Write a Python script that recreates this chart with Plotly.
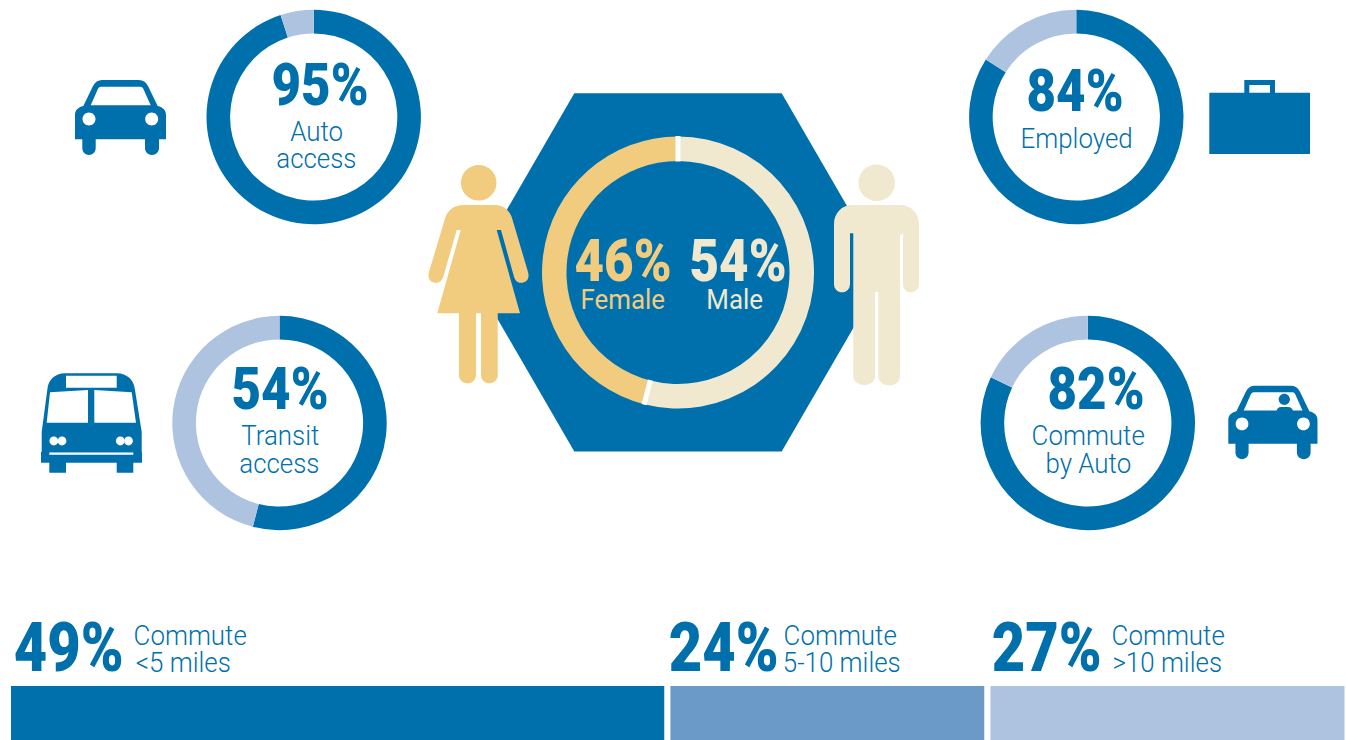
import math
import plotly.graph_objects as go

W, H = 1346, 740

# Survey shares, in percent
auto_access = [95, 5]
transit_access = [54, 46]
employed = [84, 16]
commute_by_auto = [82, 18]
gender_split = [54, 46]
commute_distance = [49, 24, 27]

ring_labels = ["Yes", "No"]
gender_labels = ["Male", "Female"]
distance_labels = ["Commute <5 miles", "Commute 5-10 miles", "Commute >10 miles"]

BLUE = "#0070AD"
MID = "#6B9AC9"
LIGHT = "#AEC3E0"
GOLD = "#F1CC7E"
CREAM = "#F0E9CF"

fig = go.Figure()


def ring(values, labels, colors, cx, cy, r, hole):
    fig.add_trace(go.Pie(
        values=values, labels=labels, sort=False, direction="clockwise", rotation=0,
        hole=hole, textinfo="none", showlegend=False, hoverinfo="label+value",
        marker=dict(colors=colors, line=dict(width=0)),
        domain=dict(x=[(cx - r) / W, (cx + r) / W], y=[1 - (cy + r) / H, 1 - (cy - r) / H]),
    ))


ring(auto_access, ring_labels, [BLUE, LIGHT], 313.7, 117, 107.2, 0.78)
ring(transit_access, ring_labels, [BLUE, LIGHT], 279.5, 423, 107.2, 0.78)
ring(employed, ring_labels, [BLUE, LIGHT], 1076.3, 117, 107.2, 0.78)
ring(commute_by_auto, ring_labels, [BLUE, LIGHT], 1087.8, 423, 107.2, 0.78)
ring(gender_split, gender_labels, [CREAM, GOLD], 678, 272.5, 136, 0.82)

# Distance bar along the bottom edge
for value, label, color in zip(commute_distance, distance_labels, [BLUE, MID, LIGHT]):
    fig.add_trace(go.Bar(
        x=[value], y=[0], name=label, orientation="h", width=1, showlegend=False,
        marker=dict(color=color, line=dict(width=0)), hoverinfo="name+x",
    ))

# Invisible pixel-scaled overlay for the pictograms and captions
fig.add_trace(go.Scatter(x=[], y=[], xaxis="x2", yaxis="y2", showlegend=False))

shapes = []


def draw(path, color=BLUE, layer="above"):
    shapes.append(dict(type="path", path=path, xref="x2", yref="y2", fillcolor=color,
                       line=dict(width=0), layer=layer, fillrule="evenodd"))


def circle(cx, cy, r):
    k = 0.5523 * r
    return (f"M{cx - r},{cy} C{cx - r},{cy - k} {cx - k},{cy - r} {cx},{cy - r} "
            f"C{cx + k},{cy - r} {cx + r},{cy - k} {cx + r},{cy} "
            f"C{cx + r},{cy + k} {cx + k},{cy + r} {cx},{cy + r} "
            f"C{cx - k},{cy + r} {cx - r},{cy + k} {cx - r},{cy} Z")


def car(x0, y0, s):
    def p(x, y):
        return f"{x0 + x * s:.2f},{y0 + y * s:.2f}"
    body = (f"M{p(0, 35)} C{p(0, 30)} {p(3, 27.5)} {p(8.3, 26)} L{p(18, 6)} Q{p(21, 0)} {p(27, 0)} "
            f"L{p(64, 0)} Q{p(70, 0)} {p(73, 6)} L{p(82.7, 26)} C{p(88, 27.5)} {p(91, 30)} {p(91, 35)} "
            f"L{p(91, 59.3)} L{p(84, 59.3)} L{p(84, 68)} C{p(84, 72)} {p(81, 75)} {p(77, 75)} "
            f"C{p(73, 75)} {p(70, 72)} {p(70, 68)} L{p(70, 59.3)} L{p(20.7, 59.3)} L{p(20.7, 68)} "
            f"C{p(20.7, 72)} {p(17.7, 75)} {p(14, 75)} C{p(10.3, 75)} {p(7.3, 72)} {p(7.3, 68)} "
            f"L{p(7.3, 59.3)} L{p(0, 59.3)} Z")
    window = (f"M{p(15.7, 25.2)} L{p(23, 8.7)} Q{p(24, 6.7)} {p(26, 6.7)} L{p(65.5, 6.7)} "
              f"Q{p(67.3, 6.7)} {p(68.3, 8.7)} L{p(75.7, 25.2)} Z")
    lamps = circle(x0 + 14 * s, y0 + 39 * s, 6.5 * s) + " " + circle(x0 + 76.7 * s, y0 + 39 * s, 6.5 * s)
    draw(f"{body} {window} {lamps}")


# Hexagon behind the gender ring
draw("M574.3,93.3 L781.7,93.3 L885.5,272.4 L781.7,451.5 L574.3,451.5 L470.5,272.4 Z", layer="below")

# White notches between the gender slices, placed from the split
ring_cx, ring_cy, ring_out, ring_in = 678, 272.5, 136, 136 * 0.82
for share in [0, gender_split[0]]:
    a = 2 * math.pi * share / sum(gender_split)
    shapes.append(dict(
        type="line", xref="x2", yref="y2", layer="above", line=dict(color="white", width=5),
        x0=ring_cx + (ring_in - 0.5) * math.sin(a), y0=ring_cy - (ring_in - 0.5) * math.cos(a),
        x1=ring_cx + (ring_out + 0.5) * math.sin(a), y1=ring_cy - (ring_out + 0.5) * math.cos(a),
    ))

# Gaps between the distance segments, anchored on the cumulative shares
running = 0
for value in commute_distance[:-1]:
    running += value
    shapes.append(dict(type="rect", xref="x", yref="y", xsizemode="pixel", xanchor=running,
                       x0=0, x1=6, y0=-0.5, y1=0.5, fillcolor="white", line=dict(width=0), layer="above"))

# Cars
car(75, 80, 1)
car(1228.3, 385.7, 0.98)
draw(circle(1284.3, 399.3, 5.6))
draw("M1276.5,411.5 Q1277,407 1281,407 L1288,407 Q1292.5,407 1293,411.5 Z")

# Bus
draw("M65,373.3 L116.7,373.3 C127,373.3 134,380 135,390 L141.7,431.7 L141.7,451.7 L142,451.7 L142,462.7 "
     "L133.3,462.7 L133.3,472.7 L116.7,472.7 L116.7,462.7 L66,462.7 L66,472.7 L49.3,472.7 L49.3,462.7 "
     "L41,462.7 L41,451.7 L41.7,451.7 L41.7,431.7 L47.3,390 C48,380 55,373.3 65,373.3 Z "
     "M66,375.7 L116.7,375.7 L116.7,387.7 L66,387.7 Z "
     "M50,392.3 L88,390 L88,422.7 L46.7,422.7 Z "
     "M94.3,390 L131.7,392.3 L136,422.7 L94.3,422.7 Z")
for lamp_x in [53.8, 62, 120.3, 128.5]:
    draw(circle(lamp_x, 441, 4.4), color="white")
draw("M49.3,452.5 L133.3,452.5 L133.3,454.7 L49.3,454.7 Z", color="white")

# Briefcase
draw("M1209.3,92.7 L1244.3,92.7 L1244.3,80 L1275,80 L1275,92.7 L1310,92.7 L1310,154 L1209.3,154 Z "
     "M1249.3,85 L1270,85 L1270,92.7 L1249.3,92.7 Z")

# Woman
draw(circle(478.7, 182.7, 17.8), GOLD)
draw("M463.5,205 L495,205 C503,205 509,210 511.7,217 L528,272 C530,279 526,282.7 521,282.7 "
     "C517,282.7 515,280 514,276.7 L501,230 L496.7,230 L520,313.3 L437.3,313.3 L460.7,230 L456.7,230 "
     "L443.3,276.7 C442.3,280 440,282.7 436,282.7 C431,282.7 427,279 429,272 L445.5,217 "
     "C448,210 454,205 463.5,205 Z", GOLD)
draw("M459,313 L476,313 L476,375 C476,380 472,383.3 467.5,383.3 C463,383.3 459,380 459,375 Z "
     "M481,313 L497.7,313 L497.7,375 C497.7,380 494,383.3 489.3,383.3 C485,383.3 481,380 481,375 Z", GOLD)

# Man
draw(circle(876.7, 182.7, 18.3), CREAM)
draw("M852,205 L900,205 C911,205 919,213 919,224 L919,284 C919,289 915.5,292.3 911,292.3 "
     "C906.5,292.3 903,289 903,284 L903,233 L900,236 L900,376 C900,381.5 895.5,385.5 889.5,385.5 "
     "C883,385.5 878.3,381.5 878.3,376 L878.3,291.7 L875,291.7 L875,376 C875,381.5 870.5,385 864.5,385 "
     "C858,385 853.3,381.5 853.3,376 L853.3,233.3 L850,233.3 L850,284 C850,289 846.5,292.3 842,292.3 "
     "C837.5,292.3 834,289 834,284 L834,224 C834,213 842,205 852,205 Z", CREAM)

annotations = []


def caption(text, x, y, size, color=BLUE, weight=300):
    annotations.append(dict(
        text=text, x=x, y=y, xref="x2", yref="y2", xanchor="center", yanchor="middle",
        showarrow=False, align="center",
        font=dict(family="Roboto", size=size, color=color, weight=weight),
    ))


def pct(values, index=0):
    return f"{values[index]}%"


caption(pct(auto_access), 319.5, 84.5, 60, weight=900)
caption("Auto", 316, 131.5, 28)
caption("access", 316, 158, 28)

caption(pct(transit_access), 279.5, 388.5, 60, weight=900)
caption("Transit", 279.5, 435, 28)
caption("access", 279.5, 463, 28)

caption(pct(employed), 1075, 90.5, 60, weight=900)
caption("Employed", 1076, 138, 28)

caption(pct(commute_by_auto), 1095.5, 388, 60, weight=900)
caption("Commute", 1088, 435, 28)
caption("by Auto", 1088, 463, 28)

caption(pct(gender_split, 1), 623, 260, 60, GOLD, weight=900)
caption("Female", 622.5, 299, 28, GOLD, weight=400)
caption(pct(gender_split, 0), 737.5, 260, 60, CREAM, weight=900)
caption("Male", 734, 299, 28, CREAM, weight=400)

caption(pct(commute_distance, 0), 68, 647.5, 68, weight=900)
caption("Commute", 190, 635, 28)
caption("<5 miles", 183, 662, 28)
caption(pct(commute_distance, 1), 723.5, 647.5, 68, weight=900)
caption("Commute", 840, 635, 28)
caption("5-10 miles", 842, 662, 28)
caption(pct(commute_distance, 2), 1046, 647.5, 68, weight=900)
caption("Commute", 1168, 635, 28)
caption(">10 miles", 1167, 662, 28)

fig.update_layout(
    width=W, height=H, margin=dict(l=0, r=0, t=0, b=0),
    paper_bgcolor="white", plot_bgcolor="rgba(0,0,0,0)",
    barmode="stack", bargap=0,
    xaxis=dict(domain=[11 / W, 1344.5 / W], range=[0, 100], visible=False, fixedrange=True),
    yaxis=dict(domain=[0, 54 / H], range=[-0.5, 0.5], visible=False, fixedrange=True),
    xaxis2=dict(domain=[0, 1], range=[0, W], visible=False, fixedrange=True, anchor="y2"),
    yaxis2=dict(domain=[0, 1], range=[H, 0], visible=False, fixedrange=True, anchor="x2"),
    shapes=shapes, annotations=annotations,
)

# Roboto narrowed around each caption's centre to give a condensed setting
condense = """
document.querySelectorAll('.annotation-text').forEach(function (t) {
  var heavy = parseInt(getComputedStyle(t).fontWeight, 10) >= 700;
  t.style.transformBox = 'fill-box';
  t.style.transformOrigin = 'center';
  t.style.transform = 'scaleX(' + (heavy ? 0.85 : 0.925) + ')';
});
"""

fig.write_html("out.html", post_script=condense, config=dict(displayModeBar=False),
               default_width=W, default_height=H)
